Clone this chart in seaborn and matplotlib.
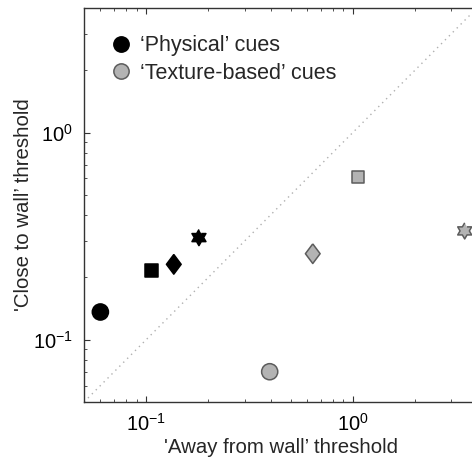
import numpy as np
import pandas as pd
import matplotlib.pyplot as plt
import seaborn as sns
from matplotlib.path import Path
from matplotlib.lines import Line2D

# thresholds (same shape order in every list)
shapes = ["circle", "square", "diamond", "hexagram"]
physical_away = [0.060, 0.106, 0.136, 0.180]
physical_close = [0.136, 0.216, 0.231, 0.311]
texture_away = [0.396, 1.062, 0.640, 3.48]
texture_close = [0.070, 0.610, 0.260, 0.335]
legend_labels = ["\u2018Physical\u2019 cues", "\u2018Texture-based\u2019 cues"]

df = pd.DataFrame({
    "away": physical_away + texture_away,
    "close": physical_close + texture_close,
    "shape": shapes * 2,
    "cue": ["physical"] * 4 + ["texture"] * 4,
})

# MATLAB-like hexagram and diamond markers
ang = np.pi / 2 + np.arange(12) * np.pi / 6
rad = np.where(np.arange(12) % 2 == 0, 1.0, 0.577)
hexagram = Path(np.column_stack([rad * np.cos(ang), rad * np.sin(ang)]))
diamond = Path([[0, 1], [0.75, 0], [0, -1], [-0.75, 0], [0, 1]])

markers = {"circle": "o", "square": "s", "diamond": diamond, "hexagram": hexagram}
sizes = {"circle": 135, "square": 80, "diamond": 200, "hexagram": 135}
styles = {"physical": ("black", "black"), "texture": ("#b3b3b3", "#5c5c5c")}

sns.set_style("ticks")
plt.rcParams["font.family"] = ["Liberation Sans", "DejaVu Sans"]
plt.rcParams["mathtext.fontset"] = "custom"
plt.rcParams["mathtext.rm"] = "Liberation Sans"

fig = plt.figure(figsize=(4.72, 4.61), dpi=100)
ax = fig.add_axes([0.178, 0.128, 0.833, 0.855])

ax.set_xscale("log")
ax.set_yscale("log")
ax.set_xlim(0.05, 4)
ax.set_ylim(0.05, 4)

ax.axline((0.1, 0.1), (1, 1), color="#b0b0b0", ls=(0, (1, 3)), lw=1, zorder=1)

# one call per cue group, so each group keeps its own face/edge colours
for cue, (face, edge) in styles.items():
    sub = df[df["cue"] == cue].reset_index(drop=True)
    sns.scatterplot(data=sub, x="away", y="close", style="shape", size="shape",
                    style_order=shapes, size_order=shapes,
                    markers=markers, sizes=sizes, color=face, edgecolor=edge,
                    linewidth=1.1, legend=False, ax=ax, zorder=3)

handles = [Line2D([], [], marker="o", ls="", markersize=11,
                  markerfacecolor=f, markeredgecolor=e, markeredgewidth=1.1)
           for f, e in styles.values()]
ax.legend(handles, legend_labels, loc="upper left", bbox_to_anchor=(0.033, 0.963),
          frameon=False, fontsize=15.5, handlelength=1.0, handletextpad=0.4,
          labelspacing=0.3, borderaxespad=0.2)

ax.set_xlabel("'Away from wall\u2019 threshold", fontsize=14.7, labelpad=2)
ax.set_ylabel("'Close to wall\u2019 threshold", fontsize=14.7, labelpad=0)
ax.tick_params(which="both", direction="in", top=True, right=False,
               labelsize=14.5, colors="#333333", labelcolor="black")
ax.tick_params(which="major", length=4, pad=8)
ax.tick_params(which="minor", length=2)
for s in ax.spines.values():
    s.set_color("#333333")
    s.set_linewidth(1)

fig.savefig("out.png", dpi=100)
